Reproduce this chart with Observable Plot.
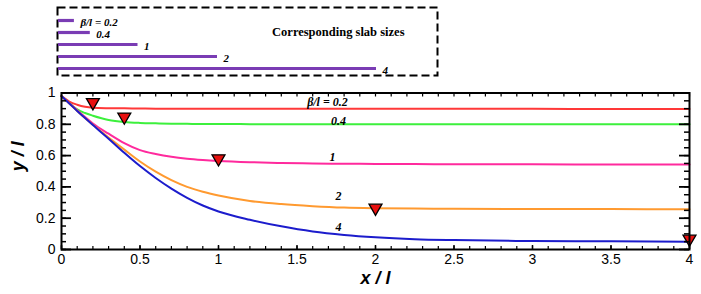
<!DOCTYPE html>
<html><head><meta charset="utf-8">
<script src="https://cdn.jsdelivr.net/npm/d3@7"></script>
<script src="https://cdn.jsdelivr.net/npm/@observablehq/plot@0.6"></script>
<style>body{margin:0;background:#fff}#c svg{display:block}</style>
</head><body><div id="c"></div>
<script>
// ---- data ----
const slabSizes = [0.2, 0.4, 1, 2, 4];
const slabLabels = ["β/l = 0.2", "0.4", "1", "2", "4"];
const xValues = [0, 0.05, 0.1, 0.15, 0.2, 0.3, 0.4, 0.5, 0.6, 0.7, 0.8, 0.9, 1.0, 1.2, 1.4, 1.6, 1.8, 2.0, 2.25, 2.5, 3.0, 3.5, 4.0];
const yBeta02 = [0.98, 0.945, 0.925, 0.912, 0.906, 0.903, 0.902, 0.901, 0.90, 0.90, 0.90, 0.90, 0.90, 0.90, 0.90, 0.90, 0.899, 0.899, 0.899, 0.899, 0.899, 0.898, 0.898];
const yBeta04 = [0.98, 0.935, 0.895, 0.872, 0.855, 0.828, 0.815, 0.809, 0.806, 0.804, 0.803, 0.802, 0.802, 0.801, 0.801, 0.80, 0.80, 0.80, 0.80, 0.80, 0.80, 0.80, 0.80];
const yBeta1 = [0.98, 0.935, 0.89, 0.847, 0.805, 0.74, 0.68, 0.635, 0.61, 0.592, 0.58, 0.572, 0.566, 0.558, 0.553, 0.55, 0.548, 0.547, 0.546, 0.545, 0.544, 0.543, 0.543];
const yBeta2 = [0.98, 0.933, 0.885, 0.84, 0.797, 0.715, 0.638, 0.562, 0.497, 0.443, 0.40, 0.369, 0.345, 0.31, 0.29, 0.277, 0.268, 0.264, 0.262, 0.26, 0.258, 0.258, 0.257];
const yBeta4 = [0.98, 0.933, 0.885, 0.84, 0.795, 0.708, 0.618, 0.533, 0.457, 0.389, 0.33, 0.281, 0.243, 0.19, 0.148, 0.115, 0.093, 0.078, 0.066, 0.06, 0.054, 0.052, 0.05];
const markerY = [0.94, 0.848, 0.581, 0.266, 0.068];
const curveLabelX = [1.694, 1.764, 1.726, 1.764, 1.764];
const curveLabelY = [0.944, 0.820, 0.592, 0.339, 0.141];
const xTickLabels = [0, 0.5, 1, 1.5, 2, 2.5, 3, 3.5, 4];
const yTickLabels = [0, 0.2, 0.4, 0.6, 0.8, 1];

// ---- styles ----
const seriesList = [yBeta02, yBeta04, yBeta1, yBeta2, yBeta4];
const seriesColors = ["#ff3838", "#3cf03c", "#ff2a9d", "#ff9a30", "#1c1ccc"];
const xMinor = d3.range(0, 41).map(i => i / 10);
const yMinor = d3.range(0, 21).map(i => i / 20);
const serif = "'Liberation Serif', 'Times New Roman', serif";
const sans = "'Liberation Sans', Arial, sans-serif";

const W = 701;
// ---- legend box ----
const legend = Plot.plot({
  width: W, height: 80,
  marginLeft: 57, marginRight: 264, marginTop: 7, marginBottom: 5,
  x: {domain: [0, 4], range: [58, 376], axis: null},
  y: {type: "point", domain: slabLabels, range: [20, 68], padding: 0, axis: null},
  marks: [
    Plot.frame({stroke: "black", strokeWidth: 2, strokeDasharray: "8,4"}),
    Plot.ruleY(d3.range(slabSizes.length), {
      y: i => slabLabels[i], x1: 0, x2: i => slabSizes[i],
      stroke: "#7a3cb4", strokeWidth: 3.2
    }),
    Plot.text(d3.range(slabSizes.length), {
      x: i => slabSizes[i], y: i => slabLabels[i], text: i => slabLabels[i],
      dx: 6, dy: 2, textAnchor: "start",
      fontFamily: serif, fontStyle: "italic", fontWeight: "bold", fontSize: 11, fill: "black"
    }),
    Plot.text(["Corresponding slab sizes"], {
      frameAnchor: "top-right", dx: -33, dy: 20, textAnchor: "end",
      fontFamily: serif, fontWeight: "bold", fontSize: 12.5, fill: "black"
    })
  ]
});

// ---- main chart ----
const H = 214, mL = 61, mR = 12, mT = 12.5, mB = 45;
const pw = W - mL - mR, ph = H - mT - mB;
const main = Plot.plot({
  width: W, height: H,
  marginLeft: mL, marginRight: mR, marginTop: mT, marginBottom: mB,
  x: {domain: [0, 4]},
  y: {domain: [0, 1]},
  marks: [
    ...seriesList.map((ys, k) => Plot.line(xValues.map((x, i) => ({x, y: ys[i]})), {
      x: "x", y: "y", stroke: seriesColors[k], strokeWidth: 2, curve: "monotone-x"
    })),
    Plot.dot(d3.range(slabSizes.length), {
      x: i => slabSizes[i], y: i => markerY[i],
      symbol: "triangle", rotate: 180, r: 4.8,
      fill: "#e81010", stroke: "black", strokeWidth: 1.3
    }),
    Plot.text(d3.range(slabLabels.length), {
      x: i => curveLabelX[i], y: i => curveLabelY[i], text: i => slabLabels[i],
      fontFamily: serif, fontStyle: "italic", fontWeight: "bold", fontSize: 12, fill: "black"
    }),
    // ticks (inward)
    Plot.tickX(xMinor, {x: d => d, insetTop: ph - 3, stroke: "black", strokeWidth: 1.2}),
    Plot.tickX(xTickLabels, {x: d => d, insetTop: ph - 4, stroke: "black", strokeWidth: 1.5}),
    Plot.tickX(xMinor, {x: d => d, insetBottom: ph - 4, stroke: "black", strokeWidth: 1.2}),
    Plot.tickY(yMinor, {y: d => d, insetRight: pw - 5, stroke: "black", strokeWidth: 1.5}),
    Plot.tickY(yTickLabels, {y: d => d, insetRight: pw - 10, stroke: "black", strokeWidth: 1.8}),
    Plot.tickY(yMinor, {y: d => d, insetLeft: pw - 5, stroke: "black", strokeWidth: 1.5}),
    Plot.tickY(yTickLabels, {y: d => d, insetLeft: pw - 10, stroke: "black", strokeWidth: 1.8}),
    Plot.frame({stroke: "black", strokeWidth: 2}),
    Plot.axisX(xTickLabels, {tickSize: 0, tickPadding: 5, label: null, tickFormat: d => String(d),
      fontSize: 14, fontFamily: sans, fill: "black"}),
    Plot.axisY(yTickLabels, {tickSize: 0, tickPadding: 6, label: null, tickFormat: d => String(d),
      fontSize: 14, fontFamily: sans, fill: "black"}),
    Plot.text(["x / l"], {frameAnchor: "bottom", dy: 34, fontFamily: sans, fontStyle: "italic",
      fontWeight: "bold", fontSize: 18, fill: "black"}),
    Plot.text(["y / l"], {frameAnchor: "left", dx: -43, rotate: -90, fontFamily: sans, fontStyle: "italic",
      fontWeight: "bold", fontSize: 18, fill: "black"})
  ]
});

const c = document.getElementById("c");
c.appendChild(legend);
c.appendChild(main);
</script>
</body></html>
